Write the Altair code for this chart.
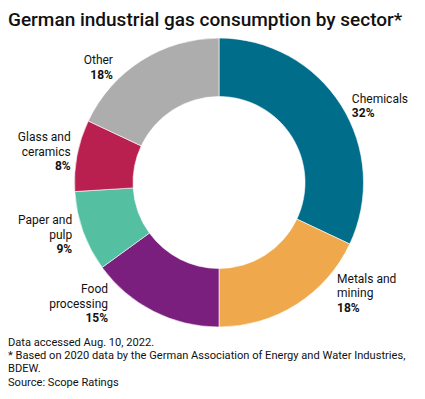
import altair as alt
import pandas as pd

# ---- data ----
sectors = ["Chemicals", "Metals and mining", "Food processing",
           "Paper and pulp", "Glass and ceramics", "Other"]
shares = [32, 18, 15, 9, 8, 18]
name_lines = ["Chemicals", "Metals and\nmining", "Food\nprocessing",
              "Paper and\npulp", "Glass and\nceramics", "Other"]
pct_labels = ["32%", "18%", "15%", "9%", "8%", "18%"]
colors = ["#006e8a", "#f0a84c", "#7a1f7d", "#55bfa2", "#b91f4f", "#adadad"]

title_text = "German industrial gas consumption by sector*"
footer_text = ("Data accessed Aug. 10, 2022.\n"
               "* Based on 2020 data by the German Association of Energy and Water Industries,\n"
               "BDEW.\n"
               "Source: Scope Ratings")

df = pd.DataFrame({
    "idx": list(range(len(sectors))),
    "sector": sectors,
    "share": shares,
    "name": name_lines,
    "pct": pct_labels,
})

FONT = "Roboto"
CX, CY = 211, 174.5
R_OUT, R_IN = 144.5, 86
R_LAB = 155
LH = 14.5

base = alt.Chart(df).encode(
    theta=alt.Theta("share:Q", stack=True),
    order=alt.Order("idx:Q"),
    x=alt.value(CX),
    y=alt.value(CY),
)

arcs = base.mark_arc(outerRadius=R_OUT, innerRadius=R_IN, stroke="white",
                     strokeWidth=0.6).encode(
    color=alt.Color("sector:N", scale=alt.Scale(domain=sectors, range=colors),
                    legend=None),
)

# label placement: (align, dx, dy of block center)
placement = {
    "Chemicals": ("left", 2, 6.5),
    "Metals and mining": ("left", 35, -20),
    "Food processing": ("right", -40.6, -17),
    "Paper and pulp": ("right", -1, -0.5),
    "Glass and ceramics": ("right", 4, -1.5),
    "Other": ("right", -23, 16),
}

layers = [arcs]
for s, nm in zip(sectors, name_lines):
    align, dx, dy = placement[s]
    n_total = nm.count("\n") + 2
    half = (n_total - 1) * LH / 2
    cond = f"datum.sector == '{s}'"
    name_layer = base.mark_text(
        align=align, baseline="middle", radius=R_LAB, font=FONT, fontSize=12,
        lineBreak="\n", lineHeight=LH, dx=dx, dy=dy - half, color="#111111",
    ).encode(text=alt.condition(cond, alt.Text("name:N"), alt.value("")))
    pct_layer = base.mark_text(
        align=align, baseline="middle", radius=R_LAB, font=FONT, fontSize=12,
        fontWeight="bold", dx=dx, dy=dy + half, color="#111111",
    ).encode(text=alt.condition(cond, alt.Text("pct:N"), alt.value("")))
    layers += [name_layer, pct_layer]

annot = pd.DataFrame({"t": [title_text]})
title = alt.Chart(annot).mark_text(
    align="left", baseline="top", font=FONT, fontSize=19, fontWeight=500,
    color="#111111",
).encode(text="t:N", x=alt.value(0), y=alt.value(3))

foot = pd.DataFrame({"t": [footer_text]})
footer = alt.Chart(foot).mark_text(
    align="left", baseline="middle", font=FONT, fontSize=11.1,
    lineBreak="\n", lineHeight=13.2, color="#111111",
).encode(text="t:N", x=alt.value(0), y=alt.value(335))

chart = alt.layer(*layers, title, footer).properties(
    width=409, height=383, padding=0,
    autosize=alt.AutoSizeParams(type="none"),
).configure_view(stroke=None)

chart.save("out.html", embed_options={"renderer": "svg", "actions": False})
